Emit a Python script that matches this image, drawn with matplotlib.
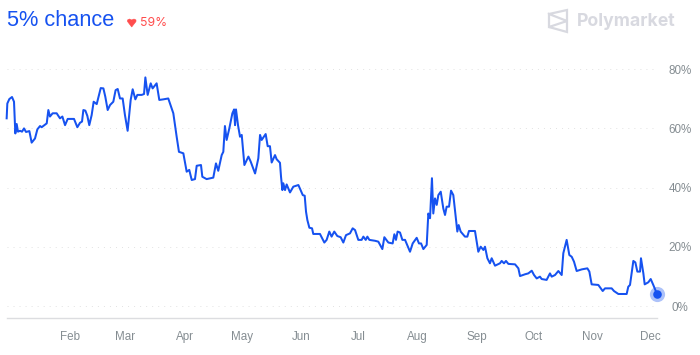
import matplotlib
matplotlib.use('Agg')
import matplotlib.pyplot as plt
from matplotlib.lines import Line2D
from matplotlib.patches import Polygon

plt.rcParams['font.family'] = ['Liberation Sans', 'DejaVu Sans']

# days since Jan 1
days = [-2.2, -1.85, -0.8, 0.6, 1.65, 2.35, 3.05, 3.75, 4.8, 5.85, 6.9, 7.95, 9.7, 10.9, 12.65, 13.9, 15.3,
        16.15, 17.55, 18.8, 19.65, 20.5, 21.9, 24.0, 25.75, 27.0, 28.4, 29.8, 33.1, 34.85, 36.25, 37.3, 38.0,
        39.05, 40.1, 41.1, 42.35, 43.4, 45.0, 46.0, 47.1, 48.5, 49.5, 50.75, 52.0, 53.7, 54.9, 56.0, 57.2,
        58.6, 59.8, 61.2, 62.8, 63.85, 65.25, 66.3, 68.55, 69.8, 70.5, 71.7, 73.3, 74.3, 76.4, 77.8, 79.9,
        82.5, 85.15, 86.9, 88.1, 90.4, 92.15, 93.5, 94.8, 96.5, 97.4, 99.65, 100.35, 102.6, 106.1, 107.5,
        108.7, 110.5, 111.35, 112.2, 113.1, 114.5, 116.1, 117.0, 117.5, 118.0, 119.05, 120.1, 121.0, 122.4,
        124.5, 125.7, 128.0, 129.7, 130.6, 131.45, 133.55, 134.6, 135.8, 136.7, 138.45, 139.3, 141.05,
        141.6, 142.3, 142.8, 143.7, 144.55, 146.3, 148.05, 150.7, 153.0, 154.0, 154.7, 155.4, 156.45,
        157.85, 158.5, 162.0, 164.3, 165.5, 166.9, 168.1, 169.5, 171.1, 172.85, 174.25, 175.65, 177.75,
        179.15, 180.4, 182.1, 183.85, 184.75, 186.0, 186.85, 187.9, 190.85, 192.6, 194.7, 195.75, 197.85,
        200.1, 201.0, 201.85, 202.7, 203.95, 205.2, 206.6, 209.2, 210.6, 212.7, 213.9, 215.0, 216.2,
        217.95, 218.8, 219.7, 220.7, 221.4, 222.3, 223.2, 224.05, 225.3, 226.65, 227.55, 228.4, 229.65,
        230.7, 231.9, 234.0, 234.7, 235.75, 238.0, 239.25, 240.1, 243.25, 245.0, 246.25, 247.65, 248.5,
        249.75, 251.1, 252.0, 253.75, 256.35, 257.25, 258.45, 259.5, 260.75, 264.25, 266.0, 266.85, 269.5,
        271.2, 273.0, 274.2, 275.6, 277.3, 278.2, 280.8, 282.55, 283.45, 285.2, 286.95, 288.7, 289.55,
        291.3, 292.7, 293.95, 295.15, 296.55, 299.2, 302.15, 303.2, 304.4, 307.9, 310.2, 311.4, 314.9,
        316.1, 318.4, 322.75, 323.6, 324.5, 326.25, 327.3, 328.35, 329.75, 330.25, 331.5, 332.2, 334.1,
        335.35, 336.7, 338.65]
chance = [63.4, 68.4, 69.9, 70.6, 69.0, 58.3, 61.5, 58.9, 59.2, 58.9, 60.0, 58.8, 59.1, 55.2, 56.6, 59.7, 60.8,
          60.4, 61.1, 61.7, 66.2, 64.0, 65.1, 65.1, 63.4, 64.0, 61.1, 63.2, 63.2, 60.4, 61.9, 62.3, 66.2,
          66.0, 64.2, 61.1, 64.5, 69.0, 68.2, 70.7, 73.6, 73.5, 70.7, 66.2, 67.9, 69.0, 72.9, 73.3, 70.1,
          70.1, 64.5, 59.2, 69.6, 73.2, 69.8, 71.3, 71.3, 71.6, 77.2, 71.3, 75.2, 73.5, 75.2, 69.6, 69.8,
          70.1, 65.1, 57.2, 52.1, 51.6, 45.4, 46.0, 42.6, 42.9, 47.4, 47.65, 43.7, 42.9, 43.4, 48.2,
          45.7, 51.0, 52.1, 60.8, 56.1, 60.0, 65.1, 66.4, 61.1, 66.4, 61.1, 57.2, 57.8, 47.65,
          50.5, 48.8, 44.8, 49.9, 57.8, 56.1, 58.1, 54.0, 54.0, 48.5, 51.0, 49.6, 48.4,
          43.7, 39.2, 41.5, 39.2, 41.1, 38.4, 40.35, 40.9, 37.5, 37.3, 31.9, 29.1, 26.5,
          26.3, 24.4, 24.4, 21.5, 22.4, 25.2, 23.5, 25.2, 23.7, 23.3, 21.5, 24.0, 24.6,
          26.3, 25.7, 22.4, 22.4, 23.5, 22.4, 23.5, 22.4, 22.1, 21.8, 19.3, 23.3, 21.5,
          21.2, 24.3, 22.4, 25.2, 24.9, 22.4, 22.4, 18.4, 21.2, 23.1, 21.2, 21.2, 19.3,
          20.7, 31.3, 29.7, 43.2, 31.3, 36.4, 34.2, 37.5, 38.65, 33.0, 30.8, 33.6, 33.6,
          39.0, 37.5, 25.2, 27.4, 25.2, 23.5, 23.5, 25.4, 25.4, 18.4, 20.1, 19.0, 20.1,
          16.2, 14.5, 16.2, 13.7, 14.5, 15.3, 14.5, 15.3, 14.3, 14.15, 12.8, 10.2, 10.8,
          11.1, 12.0, 10.55, 9.4, 10.0, 9.2, 8.9, 11.1, 10.0, 10.55, 11.9, 10.55, 17.9,
          22.4, 17.3, 16.7, 15.05, 11.9, 12.45, 12.8, 11.7, 7.4, 7.2, 5.15, 6.05, 6.05,
          5.15, 4.15, 4.15, 6.6, 7.2, 15.3, 14.8, 11.7, 11.7, 16.2, 11.1, 7.4, 8.1,
          9.2, 7.2, 4.15]

month_days = [31, 60, 91, 121, 152, 182, 213, 244, 274, 305, 335]
month_labels = ['Feb', 'Mar', 'Apr', 'May', 'Jun', 'Jul', 'Aug', 'Sep', 'Oct', 'Nov', 'Dec']
pct_ticks = [0, 20, 40, 60, 80]
pct_labels = ['0%', '20%', '40%', '60%', '80%']

blue = '#1652f0'
grey = '#858d92'
faint = '#d8d9e0'
red = '#ff4d4d'

fig = plt.figure(figsize=(7, 3.55), dpi=100)
ax = fig.add_axes([7 / 700, (355 - 318.3) / 355, 650 / 700, 263.3 / 355])
ax.set_xlim(-2.02, 338.65)
ax.set_ylim(-4.05, 84.76)

ax.plot(days, chance, color=blue, lw=1.45, solid_joinstyle='round', clip_on=False, zorder=3)
ax.scatter(days[-1], chance[-1], s=120, color=blue, alpha=0.35, linewidths=0, clip_on=False, zorder=4)
ax.scatter(days[-1], chance[-1], s=38, color=blue, linewidths=0, clip_on=False, zorder=5)

for s in ['top', 'left', 'right']:
    ax.spines[s].set_visible(False)
ax.spines['bottom'].set_color('#dcdde0')
ax.spines['bottom'].set_linewidth(1.0)

ax.yaxis.tick_right()
ax.set_yticks(pct_ticks)
ax.set_yticklabels(pct_labels, ha='center')
ax.set_xticks(month_days)
ax.set_xticklabels(month_labels)
ax.tick_params(axis='y', length=0, pad=16.6, labelsize=8.4, labelcolor=grey)
ax.tick_params(axis='x', length=0, pad=9.5, labelsize=8.4, labelcolor=grey)
ax.grid(axis='y', color='#e2e2e2', lw=0.7, linestyle=(0, (1, 5.2)))

# header, placed in pixels
over = fig.add_axes([0, 0, 1, 1])
over.set_xlim(0, 700)
over.set_ylim(355, 0)
over.axis('off')
over.patch.set_alpha(0)

over.text(7, 20.5, '5% chance', color=blue, fontsize=15.7, va='center', ha='left')
over.add_patch(Polygon([(127.5, 20), (129.5, 19), (131.7, 20), (134, 19), (136, 20), (136, 21.5), (131.7, 27), (127.5, 21.5)],
                       closed=True, color=red, lw=0.4))
over.text(140, 22.7, '59%', color=red, fontsize=8.8, va='center', ha='left', family=['Inter', 'Liberation Sans'])

logo_x = [549, 567, 567, 549, 567, 549, 549]
logo_y = [14, 10, 32, 27, 21, 14, 27]
over.add_line(Line2D(logo_x, logo_y, color=faint, lw=1.6, solid_joinstyle='miter'))
over.text(577, 21, 'Polymarket', color=faint, fontsize=12.7, fontweight='bold', va='center', ha='left',
          family=['Inter', 'Liberation Sans'])

fig.savefig('out.png', dpi=100)
